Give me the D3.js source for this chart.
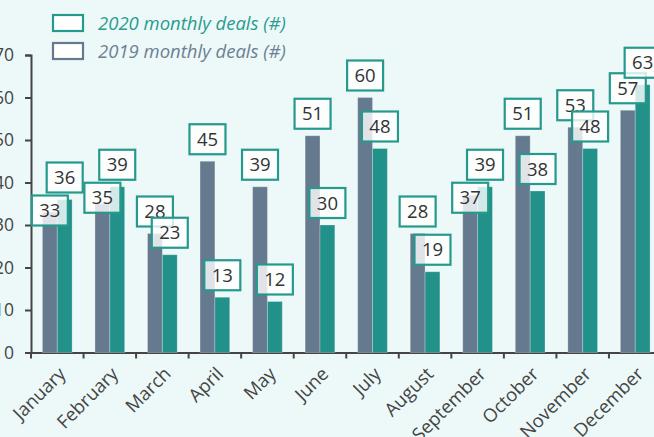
<!DOCTYPE html>
<html>
<head>
<meta charset="utf-8">
<script src="https://cdn.jsdelivr.net/npm/d3@7"></script>
<style>
  html, body { margin: 0; padding: 0; background: #edf9f8; overflow: hidden; }
  svg { display: block; font-family: "Open Sans", sans-serif; }
</style>
</head>
<body>
<div id="chart"></div>
<script>
(function() {
  const width = 654;
  const height = 437;

  const months = ["January", "February", "March", "April", "May", "June",
    "July", "August", "September", "October", "November", "December"];
  const series = ["2019", "2020"];
  const deals2019 = [33, 35, 28, 45, 39, 51, 60, 28, 37, 51, 53, 57];
  const deals2020 = [36, 39, 23, 13, 12, 30, 48, 19, 39, 38, 48, 63];
  const yTicks = [0, 10, 20, 30, 40, 50, 60, 70];
  const legendLabels = ["2020 monthly deals (#)", "2019 monthly deals (#)"];

  const colors = { "2019": "#657a8e", "2020": "#21918a" };
  const legendText = { "2019": "#6c8093", "2020": "#2a9b8f" };
  const boxStroke = "#26998d";
  const axisColor = "#454545";

  const svg = d3.select("#chart")
    .append("svg")
    .attr("width", width)
    .attr("height", height);

  svg.append("rect")
    .attr("width", width)
    .attr("height", height)
    .attr("fill", "#edf9f8");

  const x = d3.scaleBand()
    .domain(months)
    .range([31, 661.5]);

  const xs = d3.scaleBand()
    .domain(series)
    .range([0, x.bandwidth()])
    .paddingOuter(0.77);

  const y = d3.scaleLinear()
    .domain([0, 70])
    .range([352.5, 55]);

  const data = months.map((m, i) => ({ month: m, "2019": deals2019[i], "2020": deals2020[i] }));

  // Axes
  const yAxis = svg.append("g")
    .attr("transform", "translate(31,0)")
    .call(d3.axisLeft(y).tickValues(yTicks).tickSize(6).tickPadding(11));

  const xAxis = svg.append("g")
    .attr("transform", `translate(0,${y(0)})`)
    .call(d3.axisBottom(x).tickSize(6).tickSizeOuter(0));

  xAxis.selectAll(".tick line")
    .attr("x1", -x.bandwidth() / 2)
    .attr("x2", -x.bandwidth() / 2);

  [yAxis, xAxis].forEach(a => {
    a.selectAll("path, line").attr("stroke", axisColor).attr("stroke-width", 2);
    a.selectAll("text").attr("fill", axisColor).attr("font-size", "17.5px")
      .attr("font-family", "Open Sans, sans-serif");
  });

  xAxis.selectAll(".tick text")
    .attr("text-anchor", "end")
    .attr("x", 0)
    .attr("y", 0)
    .attr("dy", "0.35em")
    .attr("font-size", "18.5px")
    .attr("transform", "translate(5,18) rotate(-45)");

  // Bars
  const groups = svg.selectAll(".month")
    .data(data)
    .join("g")
    .attr("class", "month")
    .attr("transform", d => `translate(${x(d.month)},0)`);

  groups.selectAll("rect")
    .data(d => series.map(s => ({ key: s, value: d[s] })))
    .join("rect")
    .attr("x", d => xs(d.key))
    .attr("y", d => y(d.value))
    .attr("width", xs.bandwidth())
    .attr("height", d => y(0) - y(d.value))
    .attr("fill", d => colors[d.key])
    .attr("stroke", "#ffffff")
    .attr("stroke-opacity", 0.25)
    .attr("stroke-width", 1);

  // Value labels (boxes)
  const boxW = 36, boxH = 30, lift = 22;
  const labels = [];
  data.forEach(d => {
    const c20 = y(d["2020"]) - lift;
    let c19 = y(d["2019"]) - lift;
    // push the 2019 box below the 2020 box when they collide badly
    if (c20 < c19 && c19 - c20 < boxH - 10) c19 = c20 + boxH + 3;
    labels.push({ month: d.month, key: "2019", value: d["2019"], cy: c19 });
    labels.push({ month: d.month, key: "2020", value: d["2020"], cy: c20 });
  });

  const lab = svg.selectAll(".lab")
    .data(labels)
    .join("g")
    .attr("class", "lab")
    .attr("transform", d => `translate(${x(d.month) + xs(d.key) + xs.bandwidth() / 2},${d.cy})`);

  lab.append("rect")
    .attr("x", -boxW / 2)
    .attr("y", -boxH / 2)
    .attr("width", boxW)
    .attr("height", boxH)
    .attr("fill", "#ffffff")
    .attr("fill-opacity", 0.8)
    .attr("stroke", boxStroke)
    .attr("stroke-width", 2.2);

  lab.append("text")
    .attr("text-anchor", "middle")
    .attr("dy", "0.36em")
    .attr("font-size", "18.5px")
    .attr("fill", "#333")
    .text(d => d.value);

  // Legend
  const legend = svg.selectAll(".legend")
    .data(["2020", "2019"])
    .join("g")
    .attr("class", "legend")
    .attr("transform", (d, i) => `translate(53,${15 + i * 28})`);

  legend.append("rect")
    .attr("width", 30)
    .attr("height", 16)
    .attr("fill", "#ffffff")
    .attr("stroke", d => d === "2020" ? boxStroke : colors["2019"])
    .attr("stroke-width", 2.2);

  legend.append("text")
    .attr("x", 45)
    .attr("y", 8.5)
    .attr("dy", "0.35em")
    .attr("font-size", "18.5px")
    .attr("font-style", "italic")
    .attr("fill", d => legendText[d])
    .text((d, i) => legendLabels[i]);
})();
</script>
</body>
</html>
